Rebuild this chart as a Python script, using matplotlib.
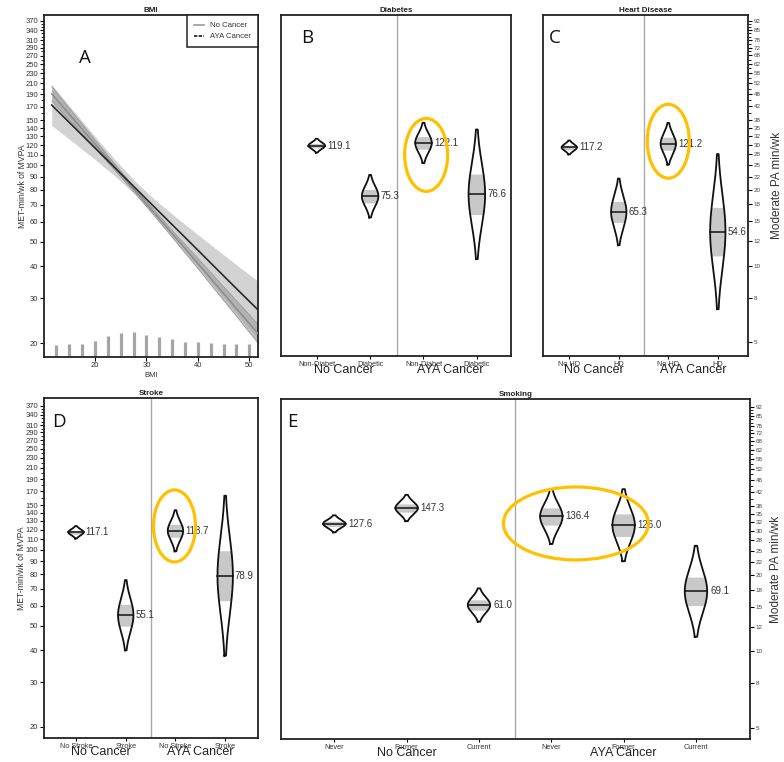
import numpy as np
import matplotlib
matplotlib.use("Agg")
import matplotlib.pyplot as plt
from matplotlib.patches import Ellipse
from matplotlib.lines import Line2D
from matplotlib.ticker import NullFormatter
import matplotlib.transforms as mtransforms

plt.rcParams['font.family'] = ['Liberation Sans', 'DejaVu Sans']

# ---------------- data ----------------
# Panel A: BMI fitted lines with confidence bands (MET-min/wk of MVPA)
bmi = [11.6, 16, 20, 24, 28, 32, 36, 40, 44, 48, 51.7]
aya_fit = [172.4, 140.7, 117.0, 97.2, 80.8, 67.1, 55.8, 46.4, 38.5, 32.0, 27.0]
aya_lo = [143.3, 122.1, 105.4, 90.3, 76.1, 62.3, 50.3, 40.3, 32.1, 25.6, 20.8]
aya_hi = [207.4, 162.1, 129.9, 104.6, 85.8, 72.2, 61.9, 53.4, 46.1, 39.9, 35.0]
nc_fit = [191.0, 150.5, 121.2, 97.6, 78.6, 63.3, 51.0, 41.1, 33.1, 26.6, 21.8]
nc_lo = [179.0, 143.2, 116.8, 95.0, 76.9, 61.7, 49.3, 39.3, 31.2, 24.8, 20.0]
nc_hi = [203.8, 158.2, 125.8, 100.3, 80.3, 64.9, 52.7, 43.0, 35.1, 28.6, 23.7]
rug_bmi = [12.5, 15, 17.5, 20, 22.5, 25, 27.5, 30, 32.5, 35, 37.5, 40, 42.5, 45, 47.5, 50]
rug_height = [11.7, 12.3, 12.7, 15.7, 21.0, 24.0, 25.0, 21.7, 19.7, 17.3, 15.0, 14.3, 13.7, 13.0, 13.0, 12.3]

groups = ['No Cancer', 'AYA Cancer']

# violin panels: estimate (MET-min/wk) and log-scale spread of each distribution
diab_labels = ['Non-Diabet', 'Diabetic', 'Non-Diabet', 'Diabetic']
diab_est = [119.1, 75.3, 122.1, 76.6]
diab_sd = [0.030, 0.092, 0.087, 0.280]

hd_labels = ['No HD', 'HD', 'No HD', 'HD']
hd_est = [117.2, 65.3, 121.2, 54.6]
hd_sd = [0.030, 0.144, 0.090, 0.335]

stroke_labels = ['No Stroke', 'Stroke', 'No Stroke', 'Stroke']
stroke_est = [117.1, 55.1, 118.7, 78.9]
stroke_sd = [0.027, 0.152, 0.089, 0.346]

smoke_labels = ['Never', 'Former', 'Current', 'Never', 'Former', 'Current']
smoke_est = [127.6, 147.3, 61.0, 136.4, 126.0, 69.1]
smoke_sd = [0.037, 0.057, 0.072, 0.119, 0.156, 0.197]

met_ticks = [20, 30, 40, 50, 60, 70, 80, 90, 100, 110, 120, 130, 140, 150,
             170, 190, 210, 230, 250, 270, 290, 310, 340, 370]
met_minor = list(range(20, 380, 10))
pa_labels = ['5', '8', '10', '12', '15', '18', '20', '22', '25', '28', '30', '32',
             '35', '38', '42', '48', '52', '58', '62', '68', '72', '78', '85', '92']

# ---------------- layout ----------------
W, H = 784, 762
fig = plt.figure(figsize=(W / 100, H / 100), dpi=100)


def add_ax(x0, y0, x1, y1):
    return fig.add_axes([x0 / W, (H - y1) / H, (x1 - x0) / W, (y1 - y0) / H])


axA = add_ax(44, 15, 258, 356.7)
axB = add_ax(281, 15, 511, 356)
axC = add_ax(543, 15, 748, 356)
axD = add_ax(44, 398, 258, 738)
axE = add_ax(281, 399, 750, 739)

TXT = '#333333'
GOLD = '#FFC000'


def style_frame(ax):
    for s in ax.spines.values():
        s.set_linewidth(1.3)
        s.set_color('#222222')


def setup_y(ax, side, ylim):
    ax.set_yscale('log')
    ax.set_ylim(*ylim)
    ax.set_yticks(met_minor, minor=True)
    ax.yaxis.set_minor_formatter(NullFormatter())
    if side == 'left':
        ax.set_yticks(met_ticks, labels=[str(v) for v in met_ticks])
        ax.tick_params(axis='y', which='major', labelsize=5.5, length=3, width=0.8,
                       pad=1, labelcolor=TXT)
        ax.tick_params(axis='y', which='minor', length=2, width=0.6)
        ax.set_ylabel('MET-min/wk of MVPA', fontsize=6.2, color=TXT)
        ax.yaxis.set_label_coords(-0.078, 0.5)
    elif side == 'right':
        ax.yaxis.tick_right()
        ax.set_yticks(met_ticks, labels=pa_labels)
        ax.tick_params(axis='y', which='major', labelsize=4.5, length=3, width=0.8,
                       pad=1, labelcolor='#444444')
        ax.tick_params(axis='y', which='minor', length=2, width=0.6)
        ax.yaxis.set_label_position('right')
        ax.set_ylabel('Moderate PA min/wk', fontsize=8.5, color=TXT)
    else:
        ax.set_yticks(met_ticks)
        ax.tick_params(axis='y', which='both', left=False, right=False,
                       labelleft=False, labelright=False)


def violin(ax, x, est, sd, half=0.155):
    z = np.linspace(-2.1, 2.1, 161)
    y = est * np.exp(z * sd)
    w = half * np.exp(-z ** 2 / 2)
    inner = np.abs(z) <= 0.674
    ax.fill_betweenx(y[inner], x - w[inner], x + w[inner], color='#c8c8c8', lw=0, zorder=2)
    ax.plot(np.r_[x - w, (x + w)[::-1], x - w[0]], np.r_[y, y[::-1], y[0]],
            color='#111111', lw=1.3, zorder=3, solid_joinstyle='round')
    ax.plot([x - half, x + half], [est, est], color='#111111', lw=1.1, zorder=3)
    ax.text(x + half + 0.04, est, f'{est:.1f}', fontsize=7, color=TXT,
            va='center', ha='left', zorder=4)


def violin_panel(ax, title, labels, est, sd, xlim, ylim, side, ngroup):
    style_frame(ax)
    xs = np.arange(1, len(labels) + 1)
    for x, e, s in zip(xs, est, sd):
        violin(ax, x, e, s)
    ax.set_xlim(*xlim)
    setup_y(ax, side, ylim)
    ax.axvline(ngroup + 0.5, color='#aaaaaa', lw=1.0, zorder=1)
    ax.set_xticks(xs, labels=labels)
    ax.tick_params(axis='x', labelsize=5.3, length=2.5, width=0.8, pad=1, labelcolor=TXT)
    ax.set_title(title, fontsize=5.8, fontweight='bold', pad=2.5, color='#222222')
    trans = mtransforms.blended_transform_factory(ax.transData, ax.transAxes)
    for gi, g in enumerate(groups):
        gx = gi * ngroup + (ngroup + 1) / 2
        ax.text(gx, -0.042, g, transform=trans, fontsize=9, color='#222222',
                ha='center', va='center')


def panel_letter(ax, letter, x, y):
    ax.text(x, y, letter, transform=ax.transAxes, fontsize=13.5, family='Open Sans',
            color='#111111', ha='left', va='baseline')


def gold_ellipse(ax, xd, yd, wpx, hpx):
    fig.canvas.draw()
    xa, ya = ax.transAxes.inverted().transform(ax.transData.transform((xd, yd)))
    bb = ax.get_window_extent()
    e = Ellipse((xa, ya), wpx / bb.width, hpx / bb.height, transform=ax.transAxes,
                fill=False, edgecolor=GOLD, lw=2.3, clip_on=False, zorder=10)
    ax.add_patch(e)


# ---------------- Panel A ----------------
style_frame(axA)
axA.set_yscale('log')
axA.fill_between(bmi, aya_lo, aya_hi, color='#d2d2d2', lw=0, zorder=1)
axA.fill_between(bmi, nc_lo, nc_hi, color='#a8a8a8', alpha=0.75, lw=0, zorder=2)
axA.plot(bmi, nc_lo, color='#9a9a9a', lw=0.6, zorder=2)
axA.plot(bmi, nc_hi, color='#9a9a9a', lw=0.6, zorder=2)
axA.plot(bmi, nc_fit, color='#8c8c8c', lw=1.1, zorder=3)
axA.plot(bmi, aya_fit, color='#2a2a2a', lw=1.2, zorder=4)
transA = mtransforms.blended_transform_factory(axA.transData, axA.transAxes)
axA.vlines(rug_bmi, 0, np.array(rug_height) / 341.7, transform=transA,
           color='#a5a5a5', lw=2.3, zorder=1)
axA.set_xlim(10.1, 51.7)
setup_y(axA, 'left', (17.67, 389.6))
axA.set_xticks([20, 30, 40, 50])
axA.tick_params(axis='x', labelsize=5.5, length=3, width=0.8, pad=1, labelcolor=TXT)
axA.set_xlabel('BMI', fontsize=5.5, labelpad=2, color=TXT)
axA.set_title('BMI', fontsize=5.8, fontweight='bold', pad=2.5, color='#222222')
handles = [Line2D([], [], color='#9a9a9a', lw=1.2),
           Line2D([], [], color='#1a1a1a', lw=1.2, ls=(0, (2, 0.8)))]
leg = axA.legend(handles, ['No Cancer', 'AYA Cancer'], loc='upper right',
                 bbox_to_anchor=(1.0, 1.0), borderaxespad=0, fontsize=5.6,
                 handlelength=1.2, handletextpad=0.8, borderpad=0.9,
                 labelspacing=0.45, fancybox=False, framealpha=1,
                 edgecolor='#222222')
leg.get_frame().set_linewidth(1.1)
for t in leg.get_texts():
    t.set_color(TXT)
panel_letter(axA, 'A', 0.165, 0.86)

# ---------------- Panels B-E ----------------
violin_panel(axB, 'Diabetes', diab_labels, diab_est, diab_sd, (0.33, 4.64),
             (17.67, 389.6), 'none', 2)
panel_letter(axB, 'B', 0.088, 0.918)

violin_panel(axC, 'Heart Disease', hd_labels, hd_est, hd_sd, (0.47, 4.61),
             (17.67, 389.6), 'right', 2)
axC.yaxis.set_label_coords(1.112, 0.5)
panel_letter(axC, 'C', 0.03, 0.918)

violin_panel(axD, 'Stroke', stroke_labels, stroke_est, stroke_sd, (0.356, 4.66),
             (18.05, 396.7), 'left', 2)
axD.yaxis.set_label_coords(-0.085, 0.5)
panel_letter(axD, 'D', 0.04, 0.915)

violin_panel(axE, 'Smoking', smoke_labels, smoke_est, smoke_sd, (0.263, 6.747),
             (18.05, 396.7), 'right', 3)
axE.yaxis.set_label_coords(1.043, 0.5)
panel_letter(axE, 'E', 0.013, 0.918)

# ---------------- highlight ellipses ----------------
gold_ellipse(axB, 3.05, 109.5, 43, 73)
gold_ellipse(axC, 3.0, 124.0, 42, 74)
gold_ellipse(axD, 2.98, 124.0, 42, 72)
gold_ellipse(axE, 4.34, 128.0, 145, 73)

fig.savefig('out.png', dpi=100)
